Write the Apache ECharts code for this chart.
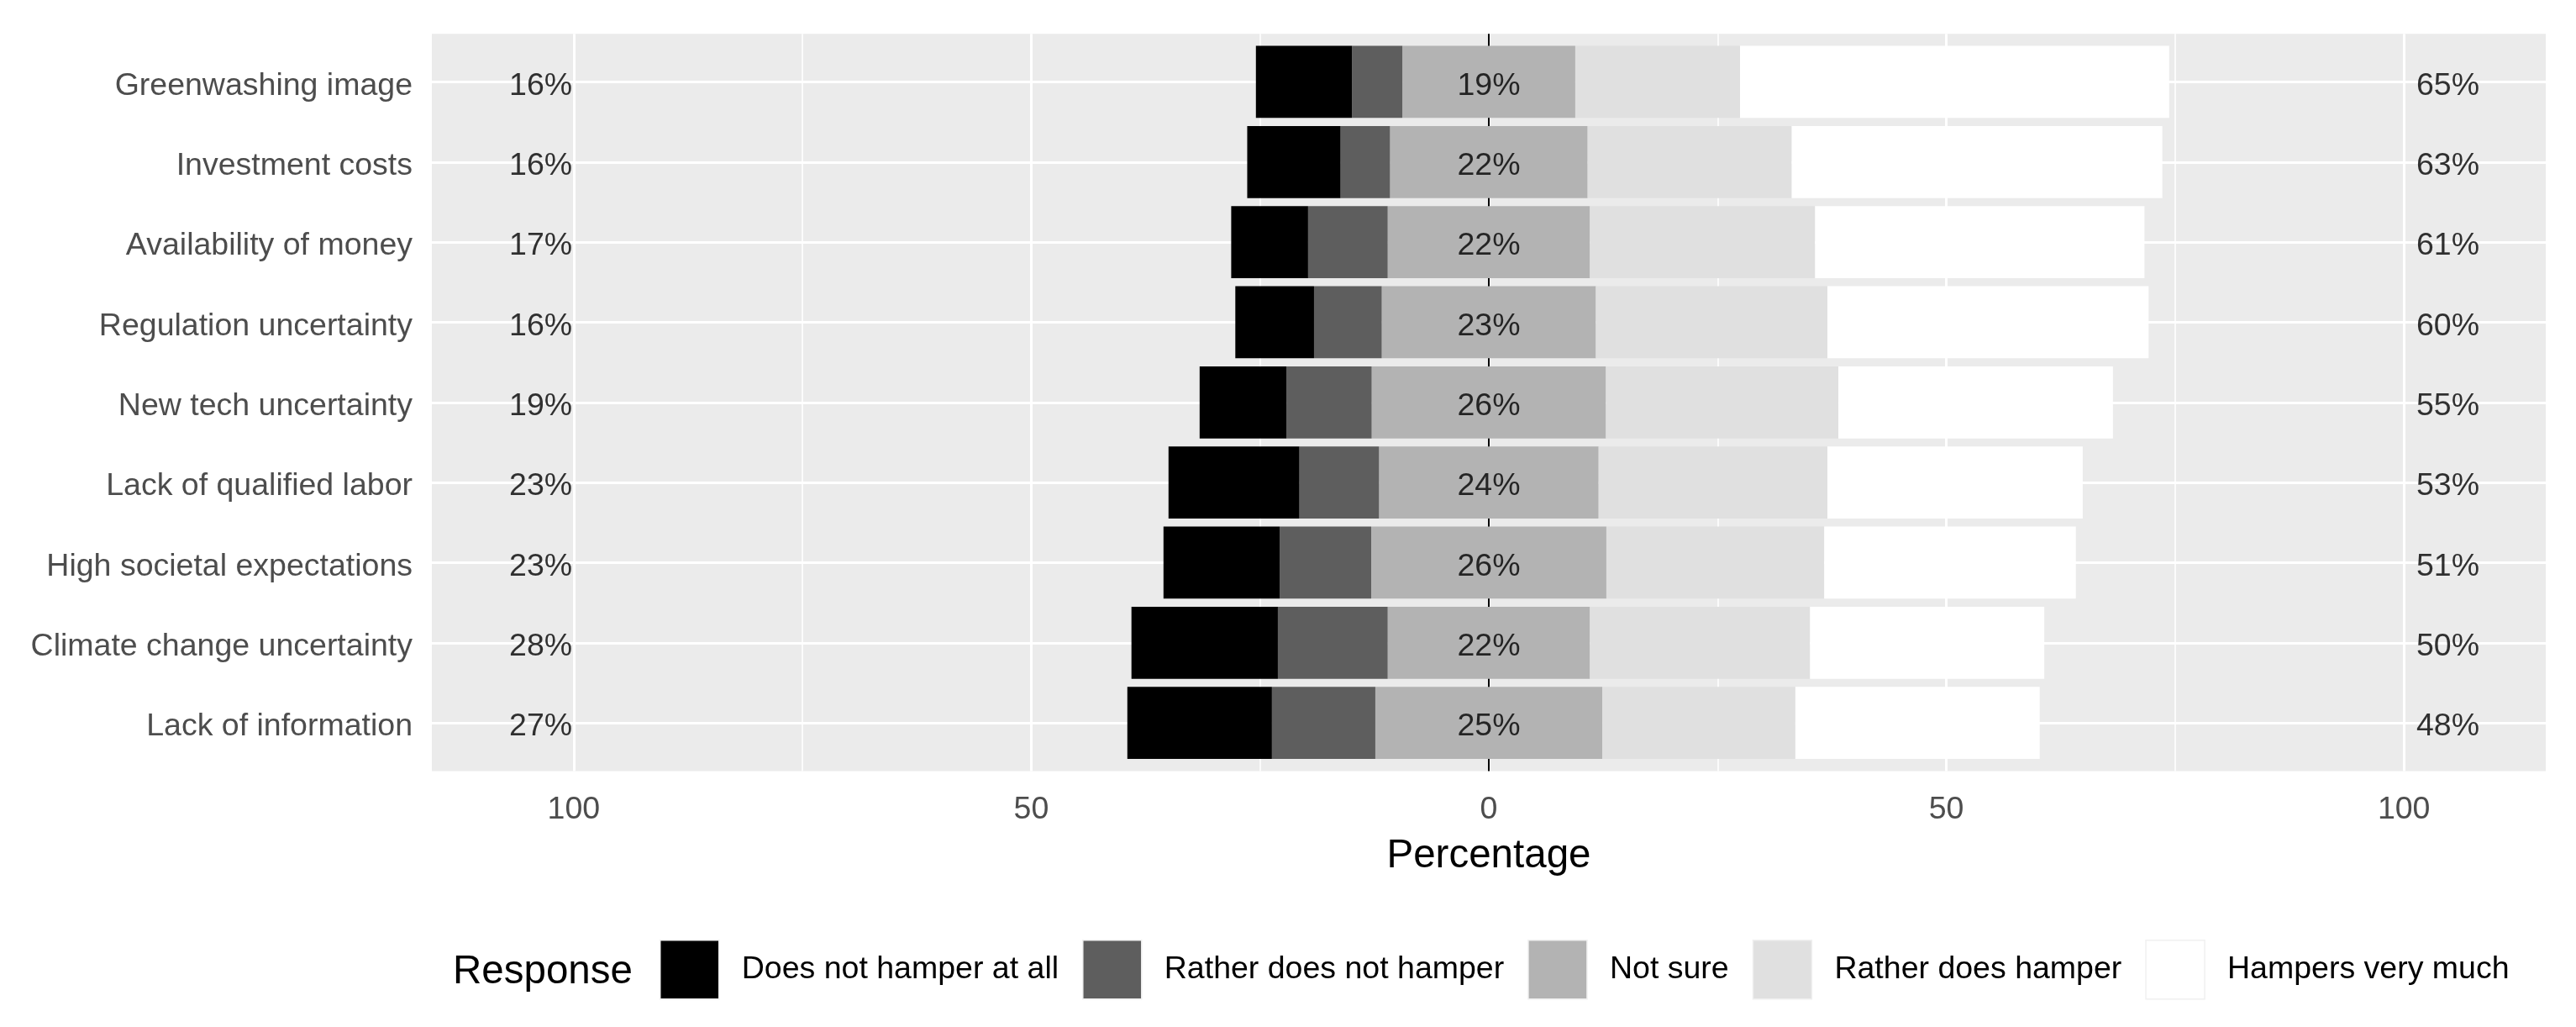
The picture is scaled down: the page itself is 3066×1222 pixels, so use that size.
<!DOCTYPE html>
<html>
<head>
<meta charset="utf-8">
<script src="https://cdn.jsdelivr.net/npm/echarts@6/dist/echarts.min.js"></script>
<style>html,body{margin:0;padding:0;background:#fff}#c{width:3066px;height:1222px}</style>
</head>
<body>
<div id="c"></div>
<script>
// ---- data ----
const categories = ['Greenwashing image','Investment costs','Availability of money','Regulation uncertainty','New tech uncertainty','Lack of qualified labor','High societal expectations','Climate change uncertainty','Lack of information'];
const responses = ['Does not hamper at all','Rather does not hamper','Not sure','Rather does hamper','Hampers very much'];
const doesNotHamper = [10.5, 10.2, 8.4, 8.6, 9.5, 14.3, 12.7, 16.0, 15.8];
const ratherNot     = [5.5, 5.4, 8.7, 7.4, 9.3, 8.7, 10.0, 12.0, 11.3];
const notSure       = [18.9, 21.6, 22.1, 23.4, 25.6, 24.0, 25.7, 22.1, 24.8];
const ratherDoes    = [18.0, 22.3, 24.6, 25.3, 25.4, 25.0, 23.8, 24.05, 21.1];
const veryMuch      = [46.9, 40.5, 36.0, 35.1, 30.0, 27.9, 27.5, 25.6, 26.7];
const lowLabels     = [16, 16, 17, 16, 19, 23, 23, 28, 27];
const neutralLabels = [19, 22, 22, 23, 26, 24, 26, 22, 25];
const highLabels    = [65, 63, 61, 60, 55, 53, 51, 50, 48];
const xTickValues   = [-100, -50, 0, 50, 100];
const xMinorBreaks  = [-75, -25, 25, 75];

// ---- styling / layout constants ----
const FONT = 'Liberation Sans, Arial, sans-serif';
const colors = ['#000000', '#5E5E5E', '#B3B3B3', '#E0E0E0', '#FFFFFF'];
const LOW_X = -103.6, HIGH_X = 104.8;

const chart = echarts.init(document.getElementById('c'));

function barSeries(name, values, color, sign) {
  return {
    type: 'bar', name: name, stack: 'likert', xAxisIndex: 1, yAxisIndex: 1,
    barWidth: '90%', z: 2,
    itemStyle: { color: color },
    data: values.map(v => sign * v)
  };
}
function labelSeries(name, xPos, labels) {
  return {
    type: 'scatter', name: name, xAxisIndex: 1, yAxisIndex: 1, z: 5,
    symbolSize: 1, itemStyle: { color: 'rgba(0,0,0,0)' },
    label: { show: true, position: 'inside', fontSize: 37.5, color: '#000', fontFamily: FONT,
             offset: [0, 5], formatter: p => p.value[2] + '%' },
    data: labels.map((l, i) => [xPos, i, l])
  };
}
function lineHolder(name, xi, yi, z, lineStyle, data) {
  return { type: 'line', name: name, xAxisIndex: xi, yAxisIndex: yi, data: [], z: z, silent: true,
    markLine: { silent: true, z: z, symbol: ['none', 'none'], label: { show: false },
      lineStyle: Object.assign({ type: 'solid' }, lineStyle), data: data } };
}

const option = {
  animation: false,
  backgroundColor: '#ffffff',
  textStyle: { fontFamily: FONT },
  title: {
    text: 'Response', left: 539, top: 1133, padding: 0,
    textStyle: { fontSize: 47.5, fontWeight: 'normal', color: '#000', fontFamily: FONT }
  },
  legend: {
    data: responses, left: 785, top: 1118, itemWidth: 70, itemHeight: 70, itemGap: 28,
    icon: 'rect', selectedMode: false, padding: 0,
    itemStyle: { borderColor: '#F0F0F0', borderWidth: 1.5 },
    textStyle: { fontSize: 37.5, color: '#000', fontFamily: FONT, padding: [0, 0, 0, 22] }
  },
  grid: [
    { left: 514, top: 40.3, width: 2516, height: 877.1, show: true, backgroundColor: '#EBEBEB', borderWidth: 0 },
    { left: 514, top: 49.8, width: 2516, height: 858 }
  ],
  xAxis: [
    { gridIndex: 0, type: 'value', min: -115.5, max: 115.5,
      axisLine: { show: false },
      axisTick: { show: false, customValues: xTickValues },
      axisLabel: { fontSize: 37.5, color: '#4D4D4D', margin: 27, fontFamily: FONT,
        customValues: xTickValues, formatter: v => String(Math.abs(v)) },
      splitLine: { show: false },
      name: 'Percentage', nameLocation: 'middle', nameGap: 78,
      nameTextStyle: { fontSize: 47.5, color: '#000', fontFamily: FONT }
    },
    { gridIndex: 1, type: 'value', min: -115.5, max: 115.5, show: false }
  ],
  yAxis: [
    { gridIndex: 0, type: 'value', min: 0, max: 1, show: false },
    { gridIndex: 1, type: 'category', data: categories, inverse: true,
      axisLine: { show: false }, axisTick: { show: false }, splitLine: { show: false },
      axisLabel: { margin: 23, formatter: v => '{t|' + v + '}',
        rich: { t: { fontSize: 37.5, color: '#4D4D4D', fontFamily: FONT, padding: [10, 0, 0, 0] } } } }
  ],
  series: [
    lineHolder('_minor', 0, 0, 0.5, { color: '#FFFFFF', width: 1.6 }, xMinorBreaks.map(v => ({ xAxis: v }))),
    lineHolder('_major', 0, 0, 0.8, { color: '#FFFFFF', width: 3 }, xTickValues.map(v => ({ xAxis: v }))),
    lineHolder('_hgrid', 1, 1, 1, { color: '#FFFFFF', width: 3 }, categories.map(c => ({ yAxis: c }))),
    lineHolder('_zero', 0, 0, 1.5, { color: '#000000', width: 2 }, [{ xAxis: 0 }]),
    barSeries(responses[2], notSure.map(v => v / 2), colors[2], -1),
    barSeries(responses[1], ratherNot, colors[1], -1),
    barSeries(responses[0], doesNotHamper, colors[0], -1),
    barSeries(responses[2], notSure.map(v => v / 2), colors[2], 1),
    barSeries(responses[3], ratherDoes, colors[3], 1),
    barSeries(responses[4], veryMuch, colors[4], 1),
    labelSeries('_low', LOW_X, lowLabels),
    labelSeries('_neutral', 0, neutralLabels),
    labelSeries('_high', HIGH_X, highLabels)
  ]
};
chart.setOption(option);
</script>
</body>
</html>
